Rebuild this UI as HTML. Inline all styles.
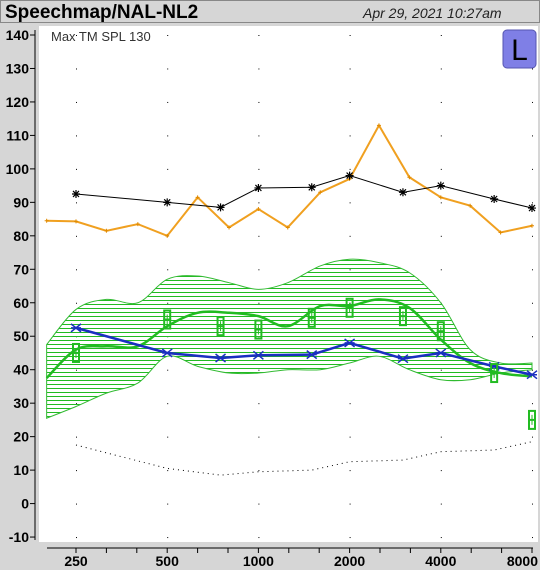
<!DOCTYPE html>
<html><head><meta charset="utf-8"><style>
body{margin:0;width:540px;height:570px;background:#d6d6d6;font-family:"Liberation Sans",sans-serif;overflow:hidden}
</style></head><body>
<svg width="540" height="570" style="display:block">
<defs>
<pattern id="hatch" width="8" height="4" patternUnits="userSpaceOnUse"><line x1="0" y1="0.5" x2="8" y2="0.5" stroke="#22bb22" stroke-width="1"/></pattern>
</defs>
<rect x="0" y="0" width="540" height="570" fill="#d6d6d6"/>
<rect x="0.5" y="0.5" width="539" height="22" fill="#d6d6d6" stroke="#888"/>
<text x="5" y="18" font-size="19" font-weight="bold" fill="#000">Speechmap/NAL-NL2</text>
<text x="363" y="18" font-size="14" font-style="italic" fill="#222">Apr 29, 2021 10:27am</text>
<rect x="39" y="26" width="499" height="516" fill="#fff"/>
<line x1="35" y1="30" x2="35" y2="540" stroke="#000"/>
<g id="grid"></g>
<g id="yaxis" font-size="14" font-weight="bold"></g>
<g id="xaxis" font-size="14" font-weight="bold"></g>
<text x="51" y="41" font-size="13" fill="#333">Max TM SPL 130</text>
<g>
<rect x="503" y="30" width="33" height="38" rx="4" fill="#7f7fe6" stroke="#5656b0"/>
<text x="519.5" y="60" font-size="30" text-anchor="middle" fill="#000">L</text>
</g>
<g id="marks"></g>
</svg>
<script>
const freqs=[250,500,750,1000,1500,2000,3000,4000,6000,8000];
const maxSPL=[92.5,90,88.5,94.3,94.5,98,93,95,91,88.3];
const aided=[52.5,45,43.5,44.3,44.5,48,43.3,45,41,38.5];
const targets=[45,55,53,52,55.5,58.5,56,51.5,39,25];
const threshold=[17.5,10.5,8.5,9.5,10,12.5,13,15.5,16,18.5];
const thirdFreqs=[200,250,315,400,500,630,800,1000,1250,1600,2000,2500,3150,4000,5000,6300,8000];
const mpo=[84.5,84.3,81.5,83.5,80,91.5,82.5,88,82.5,93,97,113,97.5,91.5,89,81,83];
const ltass=[37.5,46,47,47,53,57,57,56,53,59,59,61,58.5,49,42,39,38];
const bandUpper=[47.5,58,61,60,67,68,66,64,66,71,73,72,69,60,46,42,42];
const bandLower=[25.5,29,33,36,44,41,39,39,40,40,42,44,40,37,37,39,40];
const yTicks=[140,130,120,110,100,90,80,70,60,50,40,30,20,10,0,-10];
const xTicks=[250,500,1000,2000,4000,8000];

const X=f=>76+91.2*Math.log2(f/250);
const Y=v=>35+(140-v)*3.347;
const NS='http://www.w3.org/2000/svg';
function mk(p,tag,a){const e=document.createElementNS(NS,tag);for(const k in a)e.setAttribute(k,a[k]);p.appendChild(e);return e;}
const grid=document.getElementById('grid'),ya=document.getElementById('yaxis'),xa=document.getElementById('xaxis'),m=document.getElementById('marks');

yTicks.forEach(v=>{
  const t=mk(ya,'text',{x:29,y:Y(v)+5,'text-anchor':'end'});t.textContent=v;
  
  
  mk(ya,'line',{x1:30,x2:35,y1:Y(v),y2:Y(v),stroke:'#000'});
  xTicks.forEach(f=>{mk(grid,'rect',{x:X(f),y:Y(v),width:1,height:1,fill:'#000'});});
});
mk(xa,'line',{x1:47,x2:533,y1:548,y2:548,stroke:'#000'});
for(let k=-1;k<=17;k++){const x=76+91.2*k/3; if(x<46||x>534)continue; mk(xa,'line',{x1:x,x2:x,y1:548,y2:553,stroke:'#000'});}
xTicks.forEach((f,i)=>{const last=i===xTicks.length-1;const t=mk(xa,'text',{x:last?538:X(f),y:566,'text-anchor':last?'end':'middle'});t.textContent=f;
  
  });

function smooth(pts){let s='';for(let i=0;i<pts.length-1;i++){const p0=pts[Math.max(0,i-1)],p1=pts[i],p2=pts[i+1],p3=pts[Math.min(pts.length-1,i+2)];
  const c1=[p1[0]+(p2[0]-p0[0])/6,p1[1]+(p2[1]-p0[1])/6],c2=[p2[0]-(p3[0]-p1[0])/6,p2[1]-(p3[1]-p1[1])/6];
  s+=` C${c1[0]},${c1[1]} ${c2[0]},${c2[1]} ${p2[0]},${p2[1]}`;}return s;}
const up=thirdFreqs.map((f,i)=>[X(f),Y(bandUpper[i])]);
const lo=thirdFreqs.map((f,i)=>[X(f),Y(bandLower[i])]).reverse();
const d='M'+up[0].join(',')+smooth(up)+' L'+lo[0].join(',')+smooth(lo)+'Z';
const band=mk(m,'path',{d:d,fill:'url(#hatch)',stroke:'#33bb33','stroke-width':1});



function poly(fs,vs,attrs,name){const p=mk(m,'polyline',Object.assign({points:fs.map((f,i)=>X(f)+','+Y(vs[i])).join(' '),fill:'none'},attrs));
  
  return p;}

poly(freqs,threshold,{stroke:'#000','stroke-width':1,'stroke-dasharray':'1 4'},'threshold-line');
poly(thirdFreqs,mpo,{stroke:'#f0a020','stroke-width':2},'mpo-line');
thirdFreqs.forEach((f,i)=>{const c=mk(m,'path',{d:`M${X(f)-2},${Y(mpo[i])}h4M${X(f)},${Y(mpo[i])-2}v4`,stroke:'#e08a00'});
  
  });
poly(freqs,maxSPL,{stroke:'#000','stroke-width':1},'max-spl-line');
freqs.forEach((f,i)=>{const x=X(f),y=Y(maxSPL[i]);const s=mk(m,'path',{d:`M${x-4},${y}h8M${x},${y-4}v8M${x-3},${y-3}l6,6M${x-3},${y+3}l6,-6`,stroke:'#000','stroke-width':1.2});
  
  });
const lt=thirdFreqs.map((f,i)=>[X(f),Y(ltass[i])]);
const ltPath=mk(m,'path',{d:'M'+lt[0].join(',')+smooth(lt),fill:'none',stroke:'#22bb22','stroke-width':2.5});


poly(freqs,aided,{stroke:'#1a2fc0','stroke-width':2.5},'aided-line');
freqs.forEach((f,i)=>{const x=X(f),y=Y(aided[i]);const s=mk(m,'path',{d:`M${x-5},${y-4}l10,8M${x-5},${y+4}l10,-8M${x-5},${y}h10`,stroke:'#1a2fc0','stroke-width':1.5});
  
  });
freqs.forEach((f,i)=>{const x=X(f),y=Y(targets[i]);const g=mk(m,'g',{});
  
  
  mk(g,'rect',{x:x-3,y:y-9,width:6,height:18,fill:'none',stroke:'#22bb22','stroke-width':2});
  mk(g,'line',{x1:x-4,x2:x+4,y1:y,y2:y,stroke:'#22bb22','stroke-width':2});
  mk(g,'line',{x1:x,x2:x,y1:y-5,y2:y+5,stroke:'#22bb22','stroke-width':1});});
</script>
</body></html>
